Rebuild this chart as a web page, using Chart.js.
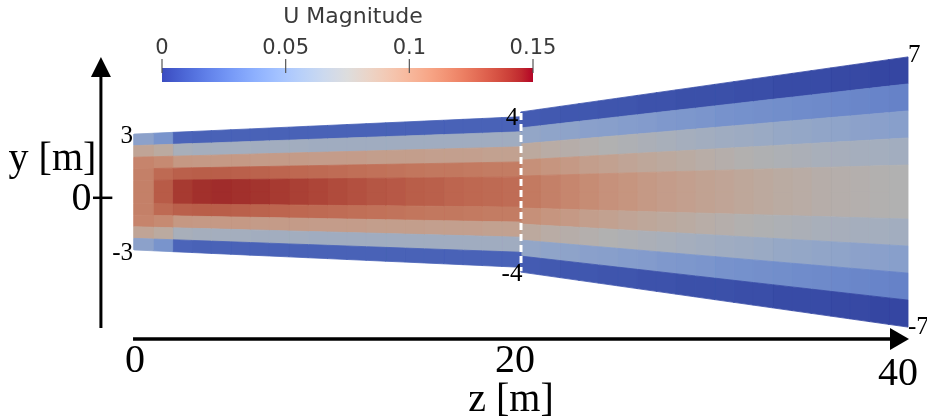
<!DOCTYPE html>
<html>
<head>
<meta charset="utf-8">
<script src="https://cdn.jsdelivr.net/npm/chart.js@4.4.0/dist/chart.umd.min.js"></script>
<style>
  html, body { margin: 0; padding: 0; background: #ffffff; }
  canvas { display: block; }
</style>
</head>
<body>
<canvas id="flow" width="927" height="419"></canvas>
<script>
// ---- Mesh: node positions along the channel axis z [m] ----
const zNodesInlet  = [0, 1, 2, 3, 4, 5, 6, 7, 8, 9, 10, 11, 12, 13, 14, 15, 16, 17, 18, 19, 20];
const zNodesOutlet = [20, 21, 22, 23, 24, 25, 26, 27, 28, 29, 30, 31, 32, 33, 34, 35, 36, 37, 38, 39, 40];

// Half-width of each section at its start and end [m]
const halfWidthInlet  = [3, 3.9];
const halfWidthOutlet = [4.15, 7];
const rowsPerSection = 10;

// ---- U magnitude per cell [m/s]; rows go from the wall to the centre line ----
const uInlet = [
  [0.052, 0.042, 0.017, 0.016, 0.016, 0.016, 0.016, 0.016, 0.016, 0.016, 0.016, 0.016, 0.016, 0.016, 0.016, 0.016, 0.016, 0.016, 0.016, 0.016],
  [0.088, 0.083, 0.069, 0.067, 0.066, 0.066, 0.065, 0.065, 0.065, 0.064, 0.064, 0.064, 0.064, 0.064, 0.064, 0.064, 0.064, 0.064, 0.064, 0.064],
  [0.108, 0.105, 0.097, 0.096, 0.096, 0.096, 0.095, 0.095, 0.095, 0.094, 0.094, 0.094, 0.093, 0.093, 0.093, 0.092, 0.092, 0.092, 0.091, 0.091],
  [0.110, 0.120, 0.124, 0.125, 0.125, 0.124, 0.123, 0.122, 0.121, 0.120, 0.119, 0.118, 0.117, 0.116, 0.115, 0.114, 0.114, 0.113, 0.112, 0.112],
  [0.110, 0.126, 0.138, 0.141, 0.142, 0.141, 0.140, 0.138, 0.136, 0.134, 0.132, 0.130, 0.128, 0.127, 0.125, 0.124, 0.122, 0.121, 0.120, 0.119]
];
const uOutlet = [
  [0.013, 0.012, 0.011, 0.011, 0.010, 0.010, 0.009, 0.009, 0.008, 0.008, 0.008, 0.007, 0.007, 0.006, 0.006, 0.006, 0.005, 0.005, 0.004, 0.004],
  [0.056, 0.054, 0.053, 0.051, 0.050, 0.048, 0.047, 0.045, 0.044, 0.043, 0.041, 0.040, 0.039, 0.038, 0.037, 0.036, 0.035, 0.034, 0.033, 0.032],
  [0.084, 0.081, 0.079, 0.077, 0.075, 0.073, 0.071, 0.069, 0.067, 0.065, 0.063, 0.062, 0.060, 0.058, 0.057, 0.055, 0.054, 0.052, 0.051, 0.050],
  [0.102, 0.099, 0.096, 0.093, 0.091, 0.088, 0.086, 0.084, 0.082, 0.080, 0.078, 0.076, 0.074, 0.072, 0.071, 0.069, 0.068, 0.067, 0.066, 0.065],
  [0.113, 0.110, 0.107, 0.104, 0.101, 0.099, 0.096, 0.094, 0.092, 0.090, 0.088, 0.086, 0.084, 0.082, 0.081, 0.079, 0.078, 0.077, 0.076, 0.075]
];

// ---- Colour bar ----
const uRange = [0, 0.15];
const colorbarTicks = [0, 0.05, 0.1, 0.15];
const colorbarTickLabels = ['0', '0.05', '0.1', '0.15'];
const colorbarTitle = 'U Magnitude';

// ---- Axes ----
const zTicks = [0, 20, 40];
const zTickLabels = ['0', '20', '40'];
const yTickLabel = '0';
const zTitle = 'z [m]';
const yTitle = 'y [m]';
// Wall coordinates written at the section ends
const wallLabelZ = [0, 0, 20, 20, 40, 40];
const wallLabelY = [3, -3, 4, -4, 7, -7];
const sectionJoinZ = 20;
const sectionJoinHalf = 4.1;

// Cool-to-warm diverging map (Moreland)
const coolWarm = [
  [59,76,192],[68,90,204],[77,104,215],[87,117,225],[98,130,234],[108,142,241],[119,154,247],
  [130,165,251],[141,176,254],[152,185,255],[163,194,255],[174,201,253],[184,208,249],[194,213,244],
  [204,217,238],[213,219,230],[221,221,221],[229,216,209],[236,211,197],[241,204,185],[245,196,173],
  [247,187,160],[247,177,148],[247,166,135],[244,154,123],[241,141,111],[236,127,99],[229,112,88],
  [222,96,77],[213,80,66],[203,62,56],[192,40,47],[180,4,38]
];
function mapColor(u, shade) {
  let t = (u - uRange[0]) / (uRange[1] - uRange[0]);
  t = Math.max(0, Math.min(1, t)) * (coolWarm.length - 1);
  const i = Math.min(coolWarm.length - 2, Math.floor(t));
  const f = t - i;
  const c = [0, 1, 2].map(k => (coolWarm[i][k] + (coolWarm[i + 1][k] - coolWarm[i][k]) * f) * shade);
  return `rgb(${c.map(v => Math.round(v)).join(',')})`;
}
const surfaceShade = 0.8;

// Build one filled quadrilateral per mesh cell
function sectionCells(zNodes, half, uRows) {
  const zs = zNodes[0], ze = zNodes[zNodes.length - 1];
  const h = z => half[0] + (half[1] - half[0]) * (z - zs) / (ze - zs);
  const out = [];
  for (let c = 0; c < zNodes.length - 1; c++) {
    const z0 = zNodes[c], z1 = zNodes[c + 1];
    for (let r = 0; r < rowsPerSection; r++) {
      const f0 = -1 + 2 * r / rowsPerSection;
      const f1 = -1 + 2 * (r + 1) / rowsPerSection;
      const idx = r < rowsPerSection / 2 ? r : rowsPerSection - 1 - r;
      const col = mapColor(uRows[idx][c], surfaceShade);
      out.push({
        data: [
          { x: z0, y: f0 * h(z0) }, { x: z1, y: f0 * h(z1) },
          { x: z1, y: f1 * h(z1) }, { x: z0, y: f1 * h(z0) },
          { x: z0, y: f0 * h(z0) }
        ],
        showLine: true, fill: 'shape', backgroundColor: col, borderColor: col,
        borderWidth: 0.8, pointRadius: 0, tension: 0, order: 2
      });
    }
  }
  return out;
}

const datasets = [
  ...sectionCells(zNodesInlet, halfWidthInlet, uInlet),
  ...sectionCells(zNodesOutlet, halfWidthOutlet, uOutlet),
  // dashed line marking the joint between the two sections
  { data: [{ x: sectionJoinZ, y: sectionJoinHalf }, { x: sectionJoinZ, y: -sectionJoinHalf }],
    showLine: true, borderColor: '#ffffff', borderWidth: 3, borderDash: [7, 4],
    pointRadius: 0, fill: false, order: 1 },
  // z axis
  { data: [{ x: -0.05, y: -7.62 }, { x: 39.2, y: -7.62 }],
    showLine: true, borderColor: '#000000', borderWidth: 3.5, pointRadius: 0, fill: false, order: 0 },
  // y axis
  { data: [{ x: -1.71, y: -7.05 }, { x: -1.71, y: 6.3 }],
    showLine: true, borderColor: '#000000', borderWidth: 3, pointRadius: 0, fill: false, order: 0 },
  // tick at y = 0
  { data: [{ x: -2.12, y: -0.3 }, { x: -1.12, y: -0.3 }],
    showLine: true, borderColor: '#000000', borderWidth: 2.5, pointRadius: 0, fill: false, order: 0 }
];

const decorations = {
  id: 'decorations',
  afterDatasetsDraw(chart) {
    const ctx = chart.ctx;
    const xs = chart.scales.x, ys = chart.scales.y;
    const X = v => xs.getPixelForValue(v), Y = v => ys.getPixelForValue(v);
    ctx.save();

    // arrow heads
    ctx.fillStyle = '#000000';
    const zx = X(40.05), zy = Y(-7.62);
    ctx.beginPath(); ctx.moveTo(zx, zy); ctx.lineTo(zx - 19, zy - 11); ctx.lineTo(zx - 19, zy + 11); ctx.closePath(); ctx.fill();
    const yx = X(-1.71), yy = Y(7.0);
    ctx.beginPath(); ctx.moveTo(yx, yy); ctx.lineTo(yx - 10, yy + 20); ctx.lineTo(yx + 10, yy + 20); ctx.closePath(); ctx.fill();

    // axis tick labels and titles
    ctx.fillStyle = '#000000';
    ctx.textBaseline = 'alphabetic';
    ctx.font = '40px "Liberation Serif", serif';
    ctx.textAlign = 'center';
    zTicks.forEach((z, i) => {
      const dy = (i === zTicks.length - 1) ? 46 : 33;
      const dx = (i === zTicks.length - 1) ? -10 : (i === 0 ? 1 : -6);
      ctx.fillText(zTickLabels[i], X(z) + dx, Y(-7.62) + dy);
    });
    ctx.fillText(zTitle, X(20) - 10, Y(-7.62) + 72);
    ctx.textAlign = 'right';
    ctx.fillText(yTickLabel, X(-2.2), Y(-0.3) + 12);
    ctx.textAlign = 'center';
    ctx.fillText(yTitle, X(-6.9) + 52, Y(0) - 22);

    // wall coordinates
    ctx.font = '25px "Liberation Serif", serif';
    wallLabelY.forEach((y, i) => {
      const z = wallLabelZ[i];
      let px = X(z), py;
      if (z === 0) { ctx.textAlign = 'right'; px -= 1; py = Y(y) + (y > 0 ? 9 : 10); }
      else if (z === 40) { ctx.textAlign = 'left'; px += 0; py = Y(y) + (y > 0 ? 5 : 7); }
      else { ctx.textAlign = 'center'; px -= 9; py = Y(y) + (y > 0 ? 10 : 12); }
      ctx.fillText(String(y), px, py);
    });

    // colour bar
    const cbLeft = 162, cbRight = 533, cbTop = 68, cbBottom = 82;
    const grad = ctx.createLinearGradient(cbLeft, 0, cbRight, 0);
    coolWarm.forEach((c, i) => grad.addColorStop(i / (coolWarm.length - 1), `rgb(${c.join(',')})`));
    ctx.fillStyle = grad;
    ctx.fillRect(cbLeft, cbTop, cbRight - cbLeft, cbBottom - cbTop);
    ctx.strokeStyle = '#555555';
    ctx.lineWidth = 1.2;
    ctx.fillStyle = '#3a3a3a';
    ctx.font = '21px "DejaVu Sans", sans-serif';
    ctx.textAlign = 'center';
    ctx.textBaseline = 'alphabetic';
    colorbarTicks.forEach((u, i) => {
      const px = cbLeft + (cbRight - cbLeft) * (u - uRange[0]) / (uRange[1] - uRange[0]);
      ctx.beginPath(); ctx.moveTo(px, 59); ctx.lineTo(px, 73); ctx.stroke();
      ctx.fillText(colorbarTickLabels[i], px, 54);
    });
    ctx.font = '22px "DejaVu Sans", sans-serif';
    ctx.fillText(colorbarTitle, 353, 23);
    ctx.restore();
  }
};

new Chart(document.getElementById('flow'), {
  type: 'scatter',
  data: { datasets },
  options: {
    responsive: false,
    animation: false,
    events: [],
    layout: { padding: 0 },
    plugins: { legend: { display: false }, tooltip: { enabled: false } },
    scales: {
      x: { type: 'linear', min: -6.925, max: 40.98, display: false },
      y: { type: 'linear', min: -11.76, max: 9.948, display: false }
    }
  },
  plugins: [decorations]
});
</script>
</body>
</html>
